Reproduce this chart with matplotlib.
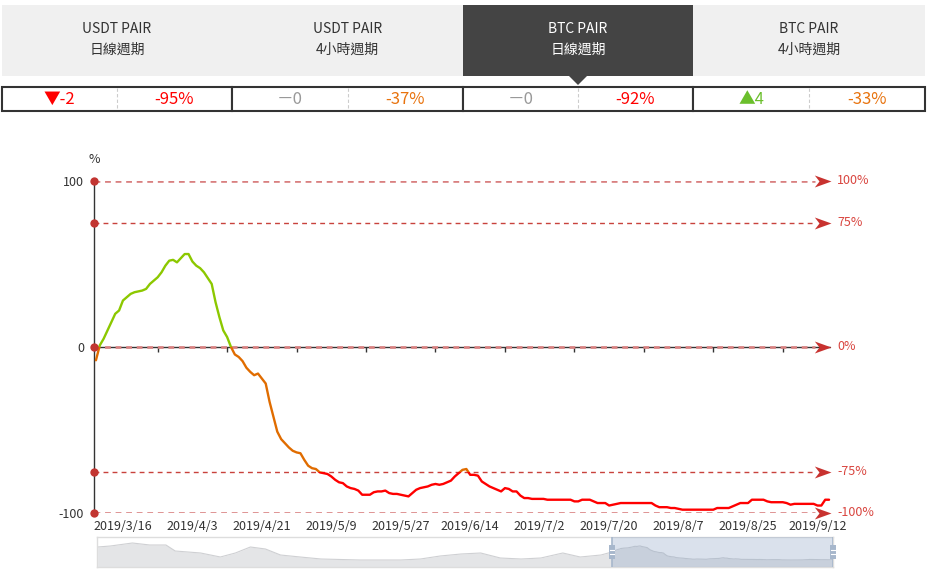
import numpy as np
import pandas as pd
import matplotlib
matplotlib.use('Agg')
import matplotlib.pyplot as plt
from matplotlib.patches import Rectangle, Polygon
from matplotlib.path import Path

plt.rcParams['font.family'] = ['Noto Sans CJK TC', 'DejaVu Sans']

# ---------------- data ----------------
tab_titles = ['USDT PAIR', 'USDT PAIR', 'BTC PAIR', 'BTC PAIR']
tab_periods = ['日線週期', '4小時週期', '日線週期', '4小時週期']
active_tab = 2
signal_text = ['▼-2', '－0', '－0', '▲4']
signal_colors = ['#ff0000', '#999999', '#999999', '#6bbf2c']
pct_text = ['-95%', '-37%', '-92%', '-33%']
pct_colors = ['#ff0000', '#e8730e', '#ff0000', '#e8730e']

start_date = '2019-03-09'
values = [
    -8, 1, 5, 10, 15, 20, 22, 28, 30, 32,
    33, 33.5, 34, 35, 38, 40, 42, 45, 49, 52,
    52.5, 51, 53.5, 56, 56, 51.5, 49, 47.5, 45, 41.5,
    38, 27, 18, 10, 6, 0, -4.5, -6, -8.5, -12.5,
    -15, -17, -16, -19, -22, -33, -42, -51, -55.5, -58,
    -60.5, -62.5, -63.5, -64, -68, -71.5, -73, -73.5, -75.5, -76,
    -76.5, -78, -80, -81.5, -82, -84, -85, -85.5, -86.5, -89,
    -89, -89, -87.5, -87, -87, -86.5, -88, -88.5, -88.5, -89,
    -89.5, -90, -88, -86, -85, -84.5, -84, -83, -82.5, -83,
    -82.5, -81.5, -80.5, -78, -76, -74, -73.5, -77, -77, -77.5,
    -81, -82.5, -84, -85, -86, -87, -85, -85.5, -87, -87,
    -89.5, -91, -91, -91.5, -91.5, -91.5, -91.5, -92, -92, -92,
    -92, -92, -92, -92, -93, -93, -92, -92, -92, -93,
    -94, -94, -94, -95.5, -95, -94.5, -94, -94, -94, -94,
    -94, -94, -94, -94, -94, -95.5, -96.5, -96.5, -96.5, -97,
    -97, -97.5, -98, -98, -98, -98, -98, -98, -98, -98,
    -98, -97, -97, -97, -97, -96, -95, -94, -94, -94,
    -92, -92, -92, -92, -93, -93.5, -93.5, -93.5, -93.5, -94,
    -95, -94.5, -94.5, -94.5, -94.5, -94.5, -94.5, -95.5, -95.5, -92,
    -92,
]
x_labels = ['2019/3/16', '2019/4/3', '2019/4/21', '2019/5/9', '2019/5/27',
            '2019/6/14', '2019/7/2', '2019/7/20', '2019/8/7', '2019/8/25',
            '2019/9/12']
y_ticks = [-100, 0, 100]
mark_levels = [100, 75, 0, -75, -100]
mark_labels = ['100%', '75%', '0%', '-75%', '-100%']

# overview (data-zoom) history before the visible window, in days relative to start
hist_offsets = [-445, -434, -415, -400, -386, -378, -356, -339, -326, -313,
                -300, -287, -270, -252, -235, -218, -200, -183, -166, -149,
                -131, -114, -97, -79, -62, -43, -28, -10]
hist_values = [45, 56, 89, 67, 67, 1, -21, -65, -21, 45,
               23, -43, -65, -87, -92, -98, -98, -98, -87, -54,
               -32, -21, -76, -87, -76, -21, -65, -43]

# ---------------- figure ----------------
W, H = 929, 572
fig = plt.figure(figsize=(W / 100, H / 100), dpi=100)


def fx(x):
    return x / W


def fy(y):
    return 1 - y / H


def frect(x0, y0, x1, y1, **kw):
    r = Rectangle((fx(x0), fy(y1)), (x1 - x0) / W, (y1 - y0) / H,
                  transform=fig.transFigure, **kw)
    fig.add_artist(r)
    return r


# tabs
tab_edges = [2, 232, 463, 693, 925]
for k in range(4):
    x0, x1 = tab_edges[k], tab_edges[k + 1]
    active = (k == active_tab)
    frect(x0, 5, x1, 76, facecolor='#444444' if active else '#f0f0f0',
          edgecolor='none', lw=0)
    tc = 'white' if active else '#333333'
    cx = (x0 + x1) / 2
    fig.text(fx(cx), fy(29), tab_titles[k], ha='center', va='center',
             fontsize=10, color=tc)
    fig.text(fx(cx), fy(50), tab_periods[k], ha='center', va='center',
             fontsize=10, color=tc)
    if active:
        tri = Polygon([(fx(cx - 10), fy(75)), (fx(cx + 10), fy(75)),
                       (fx(cx), fy(85))], closed=True,
                      transform=fig.transFigure, facecolor='#444444',
                      edgecolor='none')
        fig.add_artist(tri)

# value boxes
for k in range(4):
    x0, x1 = tab_edges[k], tab_edges[k + 1]
    frect(x0, 87, x1, 111, facecolor='white', edgecolor='#333333', lw=1.5)
    mid = (x0 + x1) / 2
    fig.add_artist(plt.Line2D([fx(mid), fx(mid)], [fy(88), fy(110)],
                              transform=fig.transFigure, color='#cccccc',
                              lw=0.8, ls=(0, (3, 2))))
    fig.text(fx((x0 + mid) / 2), fy(99), signal_text[k], ha='center',
             va='center', fontsize=12, color=signal_colors[k])
    fig.text(fx((mid + x1) / 2), fy(99), pct_text[k], ha='center',
             va='center', fontsize=12, color=pct_colors[k])

# main chart
n = len(values)
dates = pd.date_range(start_date, periods=n, freq='D')
cats = [f'{d.year}/{d.month}/{d.day}' for d in dates]
xs = np.arange(n)
vals = np.array(values, dtype=float)

ax_l, ax_r, ax_t, ax_b = 94, 831, 181, 513
ax = fig.add_axes([fx(ax_l), fy(ax_b), (ax_r - ax_l) / W, (ax_b - ax_t) / H])
ax.set_xlim(-0.5, n - 0.5)
ax.set_ylim(-100, 100)
for s in ['top', 'right', 'bottom']:
    ax.spines[s].set_visible(False)
ax.spines['left'].set_color('#333333')
ax.spines['left'].set_linewidth(1)
ax.patch.set_alpha(0)

label_pos = [cats.index(l) for l in x_labels]
ax.set_xticks(label_pos)
ax.set_xticklabels(x_labels, fontsize=9, color='#333333')
ax.tick_params(axis='x', length=0, pad=5)
ax.set_yticks(y_ticks)
ax.set_yticklabels([str(v) for v in y_ticks], fontsize=9, color='#333333')
ax.tick_params(axis='y', length=0, pad=7)

# x axis line at zero with ticks
ax.axhline(0, color='#333333', lw=1, zorder=2)
tick_pos = [p + 9 for p in label_pos if p + 9 < n]
ax.vlines(tick_pos, -3.2, 0, color='#333333', lw=1, zorder=2)

ax.text(0, 113, '%', transform=ax.get_yaxis_transform(), ha='center',
        va='center', fontsize=9, color='#333333')

# mark lines
arrow_path = Path([(0, 0), (-1, 0.36), (-0.72, 0), (-1, -0.36), (0, 0)],
                  [Path.MOVETO, Path.LINETO, Path.LINETO, Path.LINETO,
                   Path.CLOSEPOLY])
yt = ax.get_yaxis_transform()
end_frac = (815 - ax_l) / (ax_r - ax_l)
for lvl, lab in zip(mark_levels, mark_labels):
    strong = abs(lvl) == 75
    ax.axhline(lvl, xmin=0, xmax=end_frac,
               color='#c8423c' if strong else '#d98080',
               lw=1.0 if strong else 1.9,
               ls=(0, (3.5, 3)) if strong else (0, (2.2, 1.8)),
               zorder=3)
    ax.plot([1.0], [lvl], marker=arrow_path, markersize=24, color='#c8322f',
            markeredgewidth=0, transform=yt, clip_on=False, zorder=6)
    ax.annotate(lab, xy=(1.0, lvl), xycoords=yt, xytext=(4.5, 0),
                textcoords='offset points', ha='left', va='center',
                fontsize=9, color='#d9453f', annotation_clip=False)
    ax.plot([0.0], [lvl], marker='o', markersize=6, color='#c23531',
            markeredgewidth=0, transform=yt, clip_on=False, zorder=7)

# data line coloured by range
bands = [(0, 300, '#8cc800'), (-75, 0, '#e06c00'), (-300, -75, '#ff0000')]
for lo, hi, c in bands:
    ln, = ax.plot(xs, vals, color=c, lw=1.7, zorder=5,
                  solid_joinstyle='round', solid_capstyle='round')
    clip = Rectangle((-10, lo), n + 20, hi - lo, transform=ax.transData)
    ln.set_clip_path(clip)

# ---------------- data zoom slider ----------------
sl_l, sl_r, sl_t, sl_b = 97, 833, 537, 567
ax2 = fig.add_axes([fx(sl_l), fy(sl_b), (sl_r - sl_l) / W, (sl_b - sl_t) / H])
x_lo = -0.5 - (612 - sl_l) * n / (sl_r - 612)
ax2.set_xlim(x_lo, n - 0.5)
ax2.set_ylim(-175, 155)
ax2.set_xticks([])
ax2.set_yticks([])
for s in ax2.spines.values():
    s.set_color('#dddddd')
    s.set_linewidth(1)
sx = np.concatenate([hist_offsets, xs])
sy = np.concatenate([hist_values, vals])
ax2.fill_between(sx, -175, sy, color='#e4e5e7', lw=0, zorder=1)
ax2.plot(sx, sy, color='#cfd0d3', lw=0.8, zorder=2)
ax2.axvspan(-0.5, n - 0.5, color='#8fa6c6', alpha=0.33, lw=0, zorder=3)
for hx in [-0.5, n - 0.5]:
    ax2.axvline(hx, color='#a7b7cc', lw=1.2, zorder=4)
for hpx in [612, 833]:
    frect(hpx - 3, 545, hpx + 3, 559, facecolor='#a7b7cc', edgecolor='none')
    for yy in [550, 554]:
        fig.add_artist(plt.Line2D([fx(hpx - 2), fx(hpx + 2)], [fy(yy), fy(yy)],
                                  transform=fig.transFigure, color='white',
                                  lw=0.8))

fig.savefig('out.png', dpi=100)
